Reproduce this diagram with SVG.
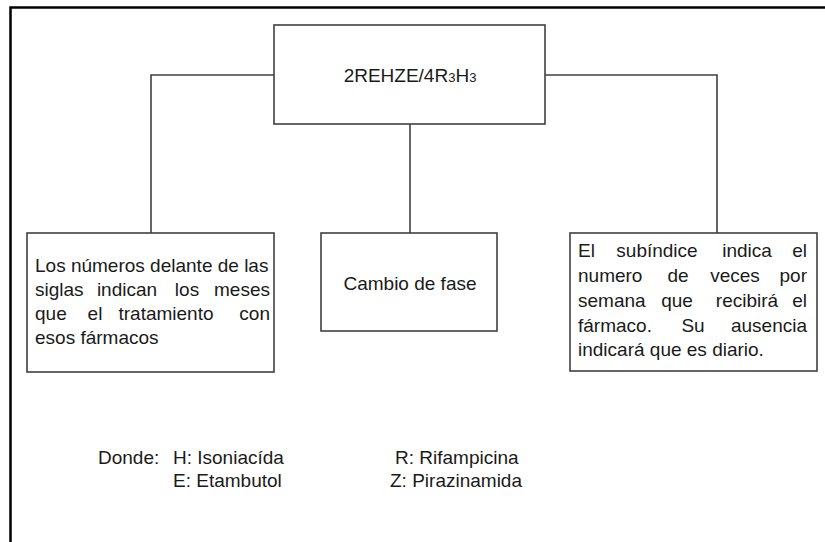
<svg xmlns="http://www.w3.org/2000/svg" width="825" height="542" viewBox="0 0 825 542">
<style>
.box{fill:#fff;stroke:#404040;stroke-width:1.6}
.con{fill:none;stroke:#404040;stroke-width:1.6}
text{font-family:"Liberation Sans",Arial,sans-serif;font-size:19px;fill:#1a1a1a}
.m{text-anchor:middle}
.e{text-anchor:end}
</style>
<rect width="825" height="542" fill="#fff"/>
<path d="M10.5,545 V7.5 H830" fill="none" stroke="#000" stroke-width="2.5"/>
<g id="connectors">
<path class="con" d="M274,75 H151 V233"/>
<path class="con" d="M545,75 H717 V233"/>
<path class="con" d="M410,124 V233"/>
</g>
<g id="top">
<rect class="box" x="274" y="25" width="271" height="99"/>
<text x="410" y="82" class="m" font-size="17.5">2REHZE/4R<tspan font-size="13">3</tspan>H<tspan font-size="13">3</tspan></text>
</g>
<g id="left">
<rect class="box" x="27" y="233" width="247" height="139"/>
<text x="35" y="272">Los números delante de las</text>
<text y="296"><tspan x="35">siglas</tspan><tspan x="127" class="m">indican</tspan><tspan x="187" class="m">los</tspan><tspan x="270" class="e">meses</tspan></text>
<text y="320"><tspan x="35">que</tspan><tspan x="95" class="m">el</tspan><tspan x="166" class="m">tratamiento</tspan><tspan x="270" class="e">con</tspan></text>
<text x="35" y="344">esos fármacos</text>
</g>
<g id="middle">
<rect class="box" x="321" y="233" width="176" height="98"/>
<text x="410" y="290" class="m">Cambio de fase</text>
</g>
<g id="right">
<rect class="box" x="570" y="233" width="247" height="138"/>
<text y="257"><tspan x="578">El</tspan><tspan x="657" class="m">subíndice</tspan><tspan x="747" class="m">indica</tspan><tspan x="807" class="e">el</tspan></text>
<text y="282"><tspan x="578">numero</tspan><tspan x="678" class="m">de</tspan><tspan x="735" class="m">veces</tspan><tspan x="807" class="e">por</tspan></text>
<text y="307"><tspan x="578">semana</tspan><tspan x="677" class="m">que</tspan><tspan x="747" class="m">recibirá</tspan><tspan x="807" class="e">el</tspan></text>
<text y="332"><tspan x="578">fármaco.</tspan><tspan x="693" class="m">Su</tspan><tspan x="807" class="e">ausencia</tspan></text>
<text x="578" y="356">indicará que es diario.</text>
</g>
<g id="legend">
<text x="98" y="464">Donde:</text>
<text x="173" y="464">H: Isoniacída</text>
<text x="395" y="464">R: Rifampicina</text>
<text x="173" y="487">E: Etambutol</text>
<text x="390" y="487">Z: Pirazinamida</text>
</g>
</svg>
